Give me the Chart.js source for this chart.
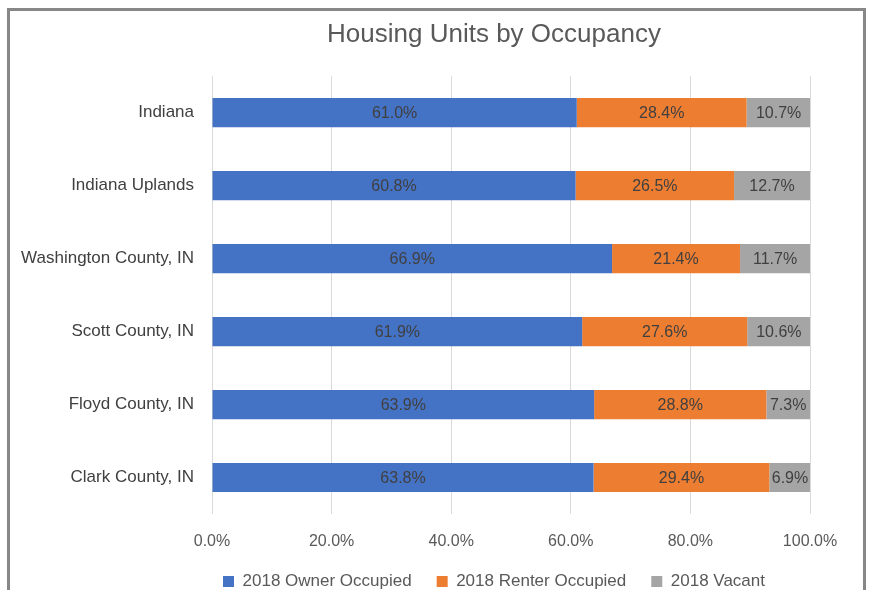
<!DOCTYPE html>
<html>
<head>
<meta charset="utf-8">
<script src="https://cdn.jsdelivr.net/npm/chart.js@4.4.1/dist/chart.umd.min.js"></script>
<style>
  html, body { margin: 0; padding: 0; background: #fff; overflow: hidden; }
  #frame {
    position: absolute; left: 7px; top: 8px; width: 853px; height: 700px;
    border: 3px solid #878787;
  }
  #wrap { position: absolute; left: 0; top: 0; width: 873px; height: 600px; }
</style>
</head>
<body>
<div id="frame"></div>
<div id="wrap"><canvas id="chart" width="873" height="600"></canvas></div>
<script>
const categories = ["Indiana", "Indiana Uplands", "Washington County, IN", "Scott County, IN", "Floyd County, IN", "Clark County, IN"];
const ownerOccupied = [61.0, 60.8, 66.9, 61.9, 63.9, 63.8];
const renterOccupied = [28.4, 26.5, 21.4, 27.6, 28.8, 29.4];
const vacant = [10.7, 12.7, 11.7, 10.6, 7.3, 6.9];
const xTicks = [0, 20, 40, 60, 80, 100];

const FONT = "'Liberation Sans', Arial, sans-serif";

// draws the value text in the middle of each bar segment
const barLabels = {
  id: "barLabels",
  afterDatasetsDraw(chart) {
    const c = chart.ctx;
    c.save();
    c.font = "16px " + FONT;
    c.fillStyle = "#404040";
    c.textAlign = "center";
    c.textBaseline = "middle";
    chart.data.datasets.forEach((ds, i) => {
      chart.getDatasetMeta(i).data.forEach((bar, j) => {
        const x = (bar.x + bar.base) / 2;
        c.fillText(ds.data[j].toFixed(1) + "%", x, bar.y + 1);
      });
    });
    c.restore();
  }
};

const ctx = document.getElementById("chart").getContext("2d");
const chart = new Chart(ctx, {
  type: "bar",
  data: {
    labels: categories,
    datasets: [
      { label: "2018 Owner Occupied", data: ownerOccupied, backgroundColor: "#4472C4" },
      { label: "2018 Renter Occupied", data: renterOccupied, backgroundColor: "#ED7D31" },
      { label: "2018 Vacant", data: vacant, backgroundColor: "#A5A5A5" }
    ]
  },
  plugins: [barLabels],
  options: {
    indexAxis: "y",
    responsive: false,
    animation: false,
    categoryPercentage: 0.4,
    barPercentage: 1,
    // left padding keeps title and legend centred where the reference has them
    layout: { padding: { left: 178, right: 63, top: 0, bottom: 0 } },
    plugins: {
      title: {
        display: true,
        text: "Housing Units by Occupancy",
        color: "#595959",
        font: { family: FONT, size: 26, weight: "normal" },
        padding: { top: 19, bottom: 26 }
      },
      legend: {
        position: "bottom",
        labels: {
          color: "#595959",
          font: { family: FONT, size: 17 },
          boxWidth: 11,
          boxHeight: 11,
          padding: 25
        }
      },
      tooltip: { enabled: false }
    },
    scales: {
      x: {
        stacked: true,
        min: 0,
        max: 100,
        afterBuildTicks: axis => { axis.ticks = xTicks.map(v => ({ value: v })); },
        afterFit: axis => { axis.height = 34; },
        grid: { color: "#d9d9d9", drawTicks: false },
        border: { display: false },
        ticks: {
          color: "#595959",
          font: { family: FONT, size: 16 },
          padding: 18,
          callback: v => v.toFixed(1) + "%"
        }
      },
      y: {
        stacked: true,
        afterFit: axis => {
          axis.width = 34;
          // labels are wider than the axis box, so don't clip them to it
          axis._computeLabelArea = () => undefined;
        },
        grid: { display: false },
        border: { display: false },
        ticks: {
          color: "#404040",
          font: { family: FONT, size: 17 },
          padding: 10
        }
      }
    }
  }
});
</script>
</body>
</html>
